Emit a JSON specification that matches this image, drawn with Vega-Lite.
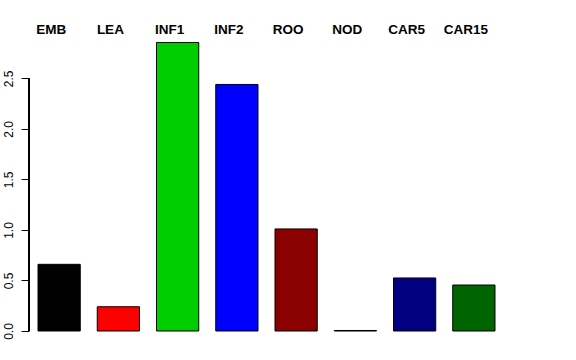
{
  "$schema": "https://vega.github.io/schema/vega-lite/v6.json",
  "width": 475,
  "height": 291,
  "autosize": "none",
  "padding": {"left": 29, "top": 40, "right": 72, "bottom": 29},
  "background": "white",
  "config": {"view": {"stroke": null}, "font": "Liberation Sans"},
  "data": {
    "values": [
      {"tissue": "EMB", "value": 0.66},
      {"tissue": "LEA", "value": 0.24},
      {"tissue": "INF1", "value": 2.855},
      {"tissue": "INF2", "value": 2.44},
      {"tissue": "ROO", "value": 1.01},
      {"tissue": "NOD", "value": 0.005},
      {"tissue": "CAR5", "value": 0.525},
      {"tissue": "CAR15", "value": 0.455}
    ]
  },
  "layer": [
    {
      "mark": {"type": "bar", "stroke": "black", "strokeWidth": 1},
      "encoding": {
        "x": {
          "field": "tissue",
          "type": "nominal",
          "sort": null,
          "scale": {"paddingInner": 0.287, "paddingOuter": 0.152},
          "axis": {
            "orient": "top",
            "title": null,
            "ticks": false,
            "domain": false,
            "labelAngle": 0,
            "labelFontWeight": "bold",
            "labelFontSize": 13.5,
            "labelColor": "black",
            "labelPadding": 4,
            "labelOffset": -8
          }
        },
        "y": {
          "field": "value",
          "type": "quantitative",
          "scale": {"domain": [0, 2.88], "nice": false},
          "axis": {
            "title": null,
            "values": [0, 0.5, 1, 1.5, 2, 2.5],
            "format": ".1f",
            "grid": false,
            "domain": false,
            "tickSize": 8,
            "tickColor": "black",
            "labelAngle": -90,
            "labelAlign": "center",
            "labelBaseline": "bottom",
            "labelPadding": 6,
            "labelFontSize": 12,
            "labelColor": "black"
          }
        },
        "color": {
          "field": "tissue",
          "type": "nominal",
          "scale": {
            "domain": ["EMB", "LEA", "INF1", "INF2", "ROO", "NOD", "CAR5", "CAR15"],
            "range": ["#000000", "#FF0000", "#00CD00", "#0000FF", "#8B0000", "#8B008B", "#000080", "#006400"]
          },
          "legend": null
        }
      }
    },
    {
      "mark": {"type": "rule", "color": "black", "strokeWidth": 1, "xOffset": -9},
      "encoding": {
        "x": {"datum": "EMB", "type": "nominal", "bandPosition": 0},
        "y": {"datum": 0, "type": "quantitative"},
        "y2": {"datum": 2.5}
      }
    }
  ]
}
